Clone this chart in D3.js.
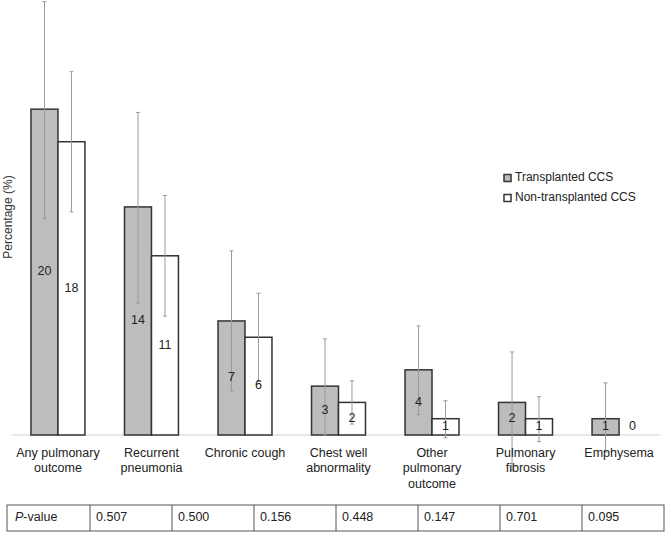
<!DOCTYPE html>
<html>
<head>
<meta charset="utf-8">
<script src="https://cdn.jsdelivr.net/npm/d3@7"></script>
<style>
  html, body { margin: 0; padding: 0; background: #fff; }
  svg { display: block; font-family: "Liberation Sans", Arial, Helvetica, sans-serif; }
</style>
</head>
<body>
<svg id="chart" width="666" height="534"></svg>
<script>
// ---- data ----
const categories = [
  ["Any pulmonary", "outcome"],
  ["Recurrent", "pneumonia"],
  ["Chronic cough"],
  ["Chest well", "abnormality"],
  ["Other", "pulmonary", "outcome"],
  ["Pulmonary", "fibrosis"],
  ["Emphysema"]
];
const seriesNames = ["Transplanted CCS", "Non-transplanted CCS"];
const transplanted = [20, 14, 7, 3, 4, 2, 1];
const nonTransplanted = [18, 11, 6, 2, 1, 1, 0];
const transplantedLow  = [13.3, 8.1, 2.7, 0, 1.25, -2.15, -1.05];
const transplantedHigh = [26.6, 19.8, 11.3, 5.9, 6.7, 5.1, 3.2];
const nonTransplantedLow  = [13.7, 7.3, 3.3, 0.67, -0.17, -0.4, null];
const nonTransplantedHigh = [22.3, 14.7, 8.7, 3.33, 2.1, 2.35, null];
const pValues = ["0.507", "0.500", "0.156", "0.448", "0.147", "0.701", "0.095"];

// ---- layout ----
const svg = d3.select("#chart");
const baseY = 435;
const catKeys = categories.map(c => c.join(" "));

const x = d3.scaleBand().domain(catKeys).range([12, 665]).paddingInner(0.423).paddingOuter(0.203);
const xs = d3.scaleBand().domain([0, 1]).range([0, x.bandwidth()]).padding(0);
const y = d3.scaleLinear().domain([0, 26.7]).range([baseY, 0]);

const fills = ["#bdbdbd", "#ffffff"];
const values = [transplanted, nonTransplanted];
const lows = [transplantedLow, nonTransplantedLow];
const highs = [transplantedHigh, nonTransplantedHigh];

// baseline
svg.append("line")
  .attr("x1", 12).attr("x2", 660)
  .attr("y1", y(0)).attr("y2", y(0))
  .attr("stroke", "#cfcfcf").attr("stroke-width", 1);

// y-axis title
svg.append("text")
  .attr("transform", `translate(9,${217}) rotate(-90)`)
  .attr("text-anchor", "middle")
  .attr("dominant-baseline", "middle")
  .attr("font-size", 12)
  .attr("fill", "#333")
  .text("Percentage (%)");

const groups = svg.append("g").selectAll("g")
  .data(catKeys)
  .join("g")
  .attr("transform", d => `translate(${x(d)},0)`);

// bars
groups.each(function(key, i) {
  const g = d3.select(this);
  [0, 1].forEach(s => {
    const v = values[s][i];
    if (v > 0) {
      g.append("rect")
        .attr("x", xs(s))
        .attr("y", y(v))
        .attr("width", xs.bandwidth())
        .attr("height", y(0) - y(v))
        .attr("fill", fills[s])
        .attr("stroke", "#333")
        .attr("stroke-width", 1.5);
    }
  });
});

// error bars
groups.each(function(key, i) {
  const g = d3.select(this);
  [0, 1].forEach(s => {
    const lo = lows[s][i], hi = highs[s][i];
    if (lo === null || hi === null) return;
    const cx = xs(s) + xs.bandwidth() / 2;
    const eg = g.append("g").attr("stroke", "#9a9a9a").attr("stroke-width", 1);
    eg.append("line").attr("x1", cx).attr("x2", cx).attr("y1", y(hi)).attr("y2", y(lo));
    eg.append("line").attr("x1", cx - 2).attr("x2", cx + 2).attr("y1", y(hi)).attr("y2", y(hi));
    eg.append("line").attr("x1", cx - 2).attr("x2", cx + 2).attr("y1", y(lo)).attr("y2", y(lo));
  });
});

// bar value labels
groups.each(function(key, i) {
  const g = d3.select(this);
  [0, 1].forEach(s => {
    const v = values[s][i];
    const cx = xs(s) + xs.bandwidth() / 2;
    const cy = v > 0 ? (y(v) + y(0)) / 2 : y(0) - 8;
    g.append("text")
      .attr("x", cx).attr("y", cy)
      .attr("text-anchor", "middle")
      .attr("dominant-baseline", "middle")
      .attr("font-size", 12.5)
      .attr("fill", "#222")
      .text(v);
  });
});

// category labels
groups.each(function(key, i) {
  const g = d3.select(this);
  const t = g.append("text")
    .attr("text-anchor", "middle")
    .attr("font-size", 12.5)
    .attr("fill", "#222");
  categories[i].forEach((line, j) => {
    t.append("tspan")
      .attr("x", x.bandwidth() / 2)
      .attr("y", 457 + j * 15.3)
      .text(line);
  });
});

// legend
const legend = svg.append("g").attr("transform", "translate(504,0)");
seriesNames.forEach((name, s) => {
  const ly = 178 + s * 20;
  legend.append("rect")
    .attr("x", 0).attr("y", ly - 3.5)
    .attr("width", 7).attr("height", 7)
    .attr("fill", fills[s]).attr("stroke", "#333").attr("stroke-width", 1.5);
  legend.append("text")
    .attr("x", 11).attr("y", ly)
    .attr("dominant-baseline", "middle")
    .attr("font-size", 12)
    .attr("fill", "#222")
    .text(name);
});

// p-value table
const tableTop = 505, tableH = 26, firstW = 83;
const colX = d3.scaleBand().domain(catKeys).range([90, 664]).padding(0);
const table = svg.append("g");
table.append("rect")
  .attr("x", 7).attr("y", tableTop)
  .attr("width", 664 - 7).attr("height", tableH)
  .attr("fill", "none").attr("stroke", "#555").attr("stroke-width", 1);
catKeys.forEach((k, i) => {
  table.append("line")
    .attr("x1", colX(k)).attr("x2", colX(k))
    .attr("y1", tableTop).attr("y2", tableTop + tableH)
    .attr("stroke", "#555").attr("stroke-width", 1);
  table.append("text")
    .attr("x", colX(k) + 6).attr("y", tableTop + tableH / 2)
    .attr("dominant-baseline", "middle")
    .attr("font-size", 12.5).attr("fill", "#222")
    .text(pValues[i]);
});
const ph = table.append("text")
  .attr("x", 15).attr("y", tableTop + tableH / 2)
  .attr("dominant-baseline", "middle")
  .attr("font-size", 12.5).attr("fill", "#222");
ph.append("tspan").attr("font-style", "italic").text("P");
ph.append("tspan").text("-value");
</script>
</body>
</html>
